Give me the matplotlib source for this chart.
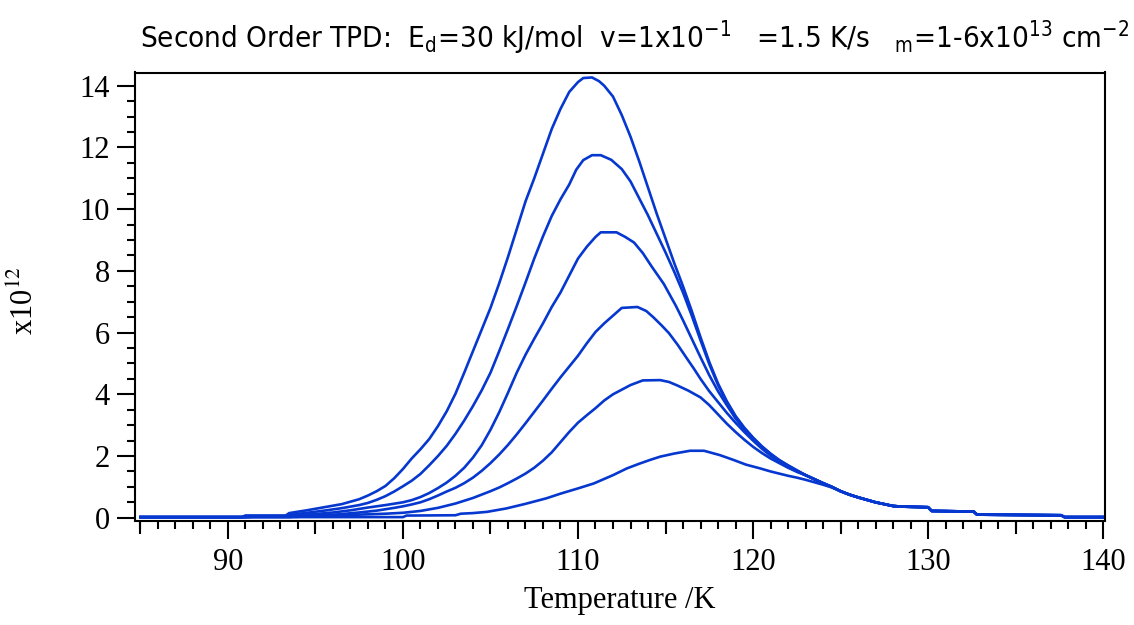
import numpy as np
import matplotlib
matplotlib.use("Agg")
import matplotlib.pyplot as plt
import matplotlib.font_manager as fm
from matplotlib.ticker import MultipleLocator

# Spectres TPD (temperature K, signal x1e12)
curve1 = [(85, 0.02), (90.8, 0.02), (91.0, 0.07), (93.3, 0.07), (93.5, 0.15), (94.5, 0.24),
          (95.5, 0.34), (96.5, 0.44), (97.0, 0.52), (97.5, 0.6), (98.0, 0.72), (98.5, 0.86),
          (99.0, 1.03), (99.5, 1.28), (100.0, 1.58), (100.5, 1.92), (101.0, 2.22), (101.5, 2.55),
          (102.0, 2.97), (102.5, 3.45), (103.0, 4.02), (103.5, 4.7), (104.0, 5.4), (104.5, 6.1),
          (105.0, 6.8), (105.5, 7.6), (106.0, 8.45), (106.5, 9.35), (107.0, 10.25), (107.5, 11.0),
          (108.0, 11.8), (108.5, 12.6), (109.0, 13.25), (109.5, 13.8), (110.0, 14.12), (110.3, 14.25),
          (110.8, 14.27), (111.2, 14.15), (111.5, 14.0), (112.0, 13.65), (112.5, 13.05), (113.0, 12.35),
          (113.5, 11.55), (114.0, 10.7), (114.5, 9.85), (115.0, 9.05), (115.5, 8.25), (116.0, 7.5),
          (116.5, 6.7), (117.0, 5.85), (117.5, 5.05), (118.0, 4.35), (118.5, 3.78), (119.0, 3.3),
          (119.5, 2.92), (120.0, 2.6), (120.5, 2.32), (121.0, 2.08), (121.5, 1.87), (122.0, 1.7),
          (122.5, 1.54)]

curve2 = [(85, 0.02), (90.8, 0.02), (91.0, 0.06), (93.4, 0.06), (93.6, 0.1), (94.5, 0.16),
          (95.5, 0.23), (96.5, 0.31), (97.5, 0.41), (98.0, 0.48), (98.5, 0.58), (99.0, 0.7),
          (99.5, 0.85), (100.0, 1.02), (100.5, 1.2), (101.0, 1.42), (101.5, 1.7), (102.0, 2.0),
          (102.5, 2.33), (103.0, 2.72), (103.5, 3.15), (104.0, 3.62), (104.5, 4.13), (105.0, 4.7),
          (105.5, 5.4), (106.0, 6.12), (106.5, 6.86), (107.0, 7.62), (107.5, 8.4), (108.0, 9.12),
          (108.5, 9.78), (109.0, 10.32), (109.5, 10.8), (109.9, 11.28), (110.3, 11.59), (110.8, 11.75),
          (111.3, 11.75), (111.9, 11.6), (112.5, 11.3), (113.0, 10.9), (113.5, 10.35), (114.0, 9.8),
          (114.5, 9.2), (115.0, 8.6), (115.5, 7.97), (116.0, 7.3), (116.5, 6.55), (117.0, 5.75),
          (117.5, 4.98), (118.0, 4.3), (118.5, 3.74), (119.0, 3.27), (119.5, 2.9), (120.0, 2.58),
          (120.5, 2.3), (121.0, 2.06), (121.5, 1.86), (122.0, 1.69), (122.5, 1.53)]

curve3 = [(85, 0.02), (91.0, 0.02), (91.2, 0.04), (93.5, 0.04), (93.7, 0.07), (95.0, 0.12),
          (96.0, 0.17), (97.0, 0.24), (98.0, 0.33), (99.0, 0.41), (100.0, 0.5), (100.5, 0.57),
          (101.0, 0.67), (101.5, 0.8), (102.0, 0.96), (102.5, 1.14), (103.0, 1.36), (103.5, 1.62),
          (104.0, 1.95), (104.5, 2.35), (105.0, 2.85), (105.5, 3.42), (106.0, 4.05), (106.5, 4.7),
          (107.0, 5.28), (107.5, 5.8), (108.0, 6.3), (108.5, 6.83), (109.0, 7.3), (109.5, 7.85),
          (110.0, 8.4), (110.5, 8.78), (111.0, 9.1), (111.3, 9.25), (112.2, 9.25), (112.7, 9.1),
          (113.2, 8.92), (113.7, 8.58), (114.2, 8.15), (114.9, 7.58), (115.6, 6.86), (116.0, 6.4),
          (116.5, 5.8), (117.0, 5.2), (117.5, 4.62), (118.0, 4.1), (118.5, 3.65), (119.0, 3.22),
          (119.5, 2.86), (120.0, 2.55), (120.5, 2.28), (121.0, 2.04), (121.5, 1.84), (122.0, 1.67),
          (122.5, 1.52)]

curve4 = [(85, 0.02), (91.2, 0.02), (91.4, 0.03), (94.0, 0.03), (94.2, 0.05), (95.5, 0.08),
          (96.5, 0.12), (97.5, 0.17), (98.5, 0.23), (99.5, 0.32), (100.0, 0.37), (100.5, 0.43),
          (101.0, 0.5), (101.5, 0.6), (102.0, 0.72), (102.5, 0.85), (103.0, 0.97), (103.5, 1.12),
          (104.0, 1.3), (104.5, 1.52), (105.0, 1.77), (105.5, 2.05), (106.0, 2.36), (106.5, 2.7),
          (107.0, 3.06), (107.5, 3.43), (108.0, 3.8), (108.5, 4.18), (109.0, 4.55), (109.5, 4.9),
          (110.0, 5.25), (110.5, 5.65), (111.0, 6.02), (111.5, 6.3), (112.0, 6.55), (112.5, 6.8),
          (113.4, 6.83), (113.9, 6.7), (114.3, 6.5), (114.8, 6.22), (115.2, 5.98), (115.7, 5.6),
          (116.2, 5.18), (116.6, 4.85), (117.0, 4.5), (117.5, 4.1), (118.0, 3.75), (118.5, 3.4),
          (119.0, 3.08), (119.5, 2.78), (120.0, 2.5), (120.5, 2.24), (121.0, 2.01), (121.5, 1.82),
          (122.0, 1.65), (122.5, 1.5)]

curve5 = [(85, 0.02), (93.5, 0.02), (93.7, 0.03), (96.0, 0.05), (97.5, 0.1), (99.0, 0.13),
          (100.0, 0.16), (101.0, 0.22), (102.0, 0.32), (103.0, 0.46), (104.0, 0.64), (105.0, 0.86),
          (105.5, 0.98), (106.0, 1.12), (106.5, 1.27), (107.0, 1.43), (107.5, 1.62), (108.0, 1.85),
          (108.5, 2.12), (109.0, 2.45), (109.5, 2.78), (110.0, 3.08), (110.5, 3.32), (111.0, 3.55),
          (111.5, 3.8), (112.0, 4.0), (112.5, 4.15), (113.0, 4.3), (113.7, 4.45), (114.7, 4.46),
          (115.2, 4.4), (115.7, 4.28), (116.3, 4.12), (117.0, 3.9), (117.5, 3.65), (118.0, 3.35),
          (118.5, 3.05), (119.0, 2.78), (119.5, 2.53), (120.0, 2.3), (120.5, 2.1), (121.0, 1.92),
          (121.5, 1.77), (122.0, 1.62), (122.5, 1.49)]

curve6 = [(85, 0.02), (100.0, 0.02), (100.2, 0.07), (103.0, 0.08), (103.3, 0.13), (104.0, 0.15),
          (104.8, 0.19), (105.9, 0.3), (107.0, 0.45), (108.2, 0.63), (109.0, 0.78), (110.0, 0.95),
          (110.9, 1.11), (112.0, 1.38), (112.8, 1.6), (113.5, 1.75), (114.1, 1.87), (114.7, 1.98),
          (115.5, 2.08), (116.4, 2.17), (117.2, 2.17), (118.1, 2.03), (118.9, 1.87), (119.6, 1.72),
          (120.4, 1.6), (121.0, 1.5), (121.5, 1.43), (122.0, 1.36), (122.5, 1.3), (123.0, 1.23),
          (123.5, 1.15), (124.0, 1.07), (124.5, 0.98)]

# queue commune a toutes les courbes
tail = [(123.0, 1.38), (123.5, 1.25), (124.0, 1.12), (124.5, 1.0), (125.0, 0.86), (125.5, 0.75),
        (126.0, 0.66), (126.5, 0.58), (127.0, 0.5), (127.5, 0.44), (128.0, 0.38), (128.5, 0.36),
        (130.0, 0.34), (130.2, 0.22), (132.6, 0.2), (132.8, 0.1), (137.6, 0.08), (137.8, 0.02),
        (140.0, 0.02)]

courbes = [curve1, curve2, curve3, curve4, curve5, curve6]
cor = '#0638d0'

# police etroite pour le titre si disponible
prop_c = fm.FontProperties(family='DejaVu Sans', stretch='condensed')
if 'Condensed' in fm.findfont(prop_c):
    fam_titre = 'DejaVu Sans'
    stretch = 'condensed'
    math_rm = 'DejaVu Sans:stretch=condensed'
else:
    fam_titre = 'Liberation Sans'
    stretch = 'normal'
    math_rm = 'Liberation Sans'

fig = plt.figure(figsize=(11.34, 6.25), dpi=100)
ax = fig.add_axes([135 / 1134, 1 - 520.5 / 625, (1105 - 135) / 1134, (520.5 - 72.5) / 625])

for c in courbes:
    t_fin = c[-1][0]
    pts = c + [p for p in tail if p[0] > t_fin]
    t, v = np.array(pts).T
    ax.plot(t, v, color=cor, lw=1.9, solid_joinstyle='round')

ax.set_xlim(84.69, 140.11)
ax.set_ylim(-0.09, 14.43)

serif = ['Liberation Serif', 'DejaVu Serif']
ax.xaxis.set_major_locator(MultipleLocator(10))
ax.xaxis.set_minor_locator(MultipleLocator(1))
ax.yaxis.set_major_locator(MultipleLocator(2))
ax.yaxis.set_minor_locator(MultipleLocator(0.5))
ax.tick_params(which='major', direction='out', length=13, width=1.5, labelsize=22, pad=5)
ax.tick_params(which='minor', direction='out', length=5.8, width=1.5)
ax.tick_params(axis='x', which='major', pad=7)
for lab in ax.get_xticklabels() + ax.get_yticklabels():
    lab.set_fontfamily(serif)

# ticks intermediaires tous les 5 K
sec = ax.secondary_xaxis('bottom')
sec.set_xticks([85, 95, 105, 115, 125, 135])
sec.tick_params(direction='out', length=9.4, width=1.5, labelbottom=False)
sec.spines['bottom'].set_visible(False)

for s in ax.spines.values():
    s.set_linewidth(1.5)

ax.set_xlabel('Temperature /K', fontsize=22, family=serif, labelpad=6)
fig.text(25 / 1134, 1 - 300 / 625, r'x10$^{12}$', rotation=90, fontsize=22, family=serif,
         math_fontfamily='stix', ha='center', va='center')

plt.rcParams['mathtext.fontset'] = 'custom'
plt.rcParams['mathtext.rm'] = math_rm
plt.rcParams['mathtext.it'] = math_rm
titulo = (r'Second Order TPD:  E$_\mathrm{d}$=30 kJ/mol  v=1x10$^\mathrm{-1}$   =1.5 K/s   '
          r'$_\mathrm{m}$=1-6x10$^\mathrm{13}$ cm$^\mathrm{-2}$')
tt = fig.text(140 / 1134, 1 - 48 / 625, titulo, fontsize=20, family=fam_titre,
              fontstretch=stretch, math_fontfamily='custom', ha='left', va='baseline')

# ajuster la taille du titre a la largeur voulue (~988 px)
fig.canvas.draw()
larg = tt.get_window_extent().width
tt.set_fontsize(20 * 988 / larg)

fig.savefig('out.png', dpi=100)
